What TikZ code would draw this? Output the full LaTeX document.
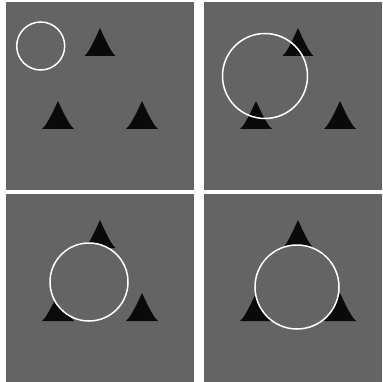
\documentclass[tikz,border=0pt]{standalone}
\definecolor{panelgray}{RGB}{100,100,100}
\definecolor{trifill}{RGB}{10,10,10}
\tikzset{
  panel/.style={fill=panelgray, draw=none},
  tri/.style={fill=trifill, draw=none},
  ring/.style={draw=white, line width=1.5pt},
  occluder/.style={draw=white, fill=panelgray, line width=1.5pt}
}
\newcommand{\onetri}[3]{% apex x, apex y, half width
  \fill[tri] (#1,#2) .. controls (#1-0.35*#3,#2+12) and (#1-0.7*#3,#2+24) .. (#1-#3,#2+28)
    -- (#1+#3,#2+28) .. controls (#1+0.7*#3,#2+24) and (#1+0.35*#3,#2+12) .. (#1,#2) -- cycle;
}
\newcommand{\tris}[2]{%
  \onetri{#1+94}{#2+26}{15.5}
  \onetri{#1+52}{#2+99}{16}
  \onetri{#1+136}{#2+99}{16}
}
\begin{document}
\begin{tikzpicture}[x=1pt,y=-1pt]
\useasboundingbox (0,0) rectangle (382,382);
\fill[white] (0,0) rectangle (382,382);
% panels
\fill[panel] (6,2) rectangle (194,190);
\fill[panel] (204,2) rectangle (382,190);
\fill[panel] (6,194) rectangle (194,382);
\fill[panel] (204,194) rectangle (382,382);
% triangles
\tris{6}{2}
\tris{204}{2}
\tris{6}{194}
\tris{204}{194}
% circles
\draw[ring] (40.7,46) circle[radius=24];
\draw[ring] (265,76) circle[radius=42.5];
\draw[occluder] (89,282) circle[radius=39];
\draw[occluder] (297,287) circle[radius=42];
\end{tikzpicture}
\end{document}
